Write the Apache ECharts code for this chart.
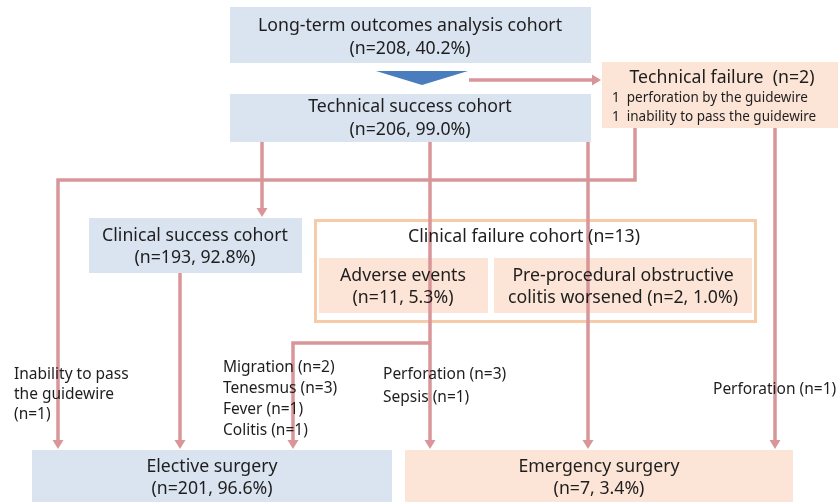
<!DOCTYPE html>
<html><head><meta charset="utf-8">
<script src="https://cdn.jsdelivr.net/npm/echarts@6/dist/echarts.min.js"></script>
<style>html,body{margin:0;padding:0;background:#fff}#c{width:839px;height:502px}</style>
</head><body><div id="c"></div>
<script>
// ---- content (text) ----
const boxTitles = ["Long-term outcomes analysis cohort", "Technical success cohort", "Technical failure  (n=2)", "Clinical success cohort", "Clinical failure cohort (n=13)", "Adverse events", "Pre-procedural obstructive", "Elective surgery", "Emergency surgery"];
const boxSubtitles = ["(n=208, 40.2%)", "(n=206, 99.0%)", "", "(n=193, 92.8%)", "", "(n=11, 5.3%)", "colitis worsened (n=2, 1.0%)", "(n=201, 96.6%)", "(n=7, 3.4%)"];
const technicalFailureReasons = ["1  perforation by the guidewire", "1  inability to pass the guidewire"];
const guidewireLabel = ["Inability to pass", "the guidewire", "(n=1)"];
const adverseElectiveLabel = ["Migration (n=2)", "Tenesmus (n=3)", "Fever (n=1)", "Colitis (n=1)"];
const adverseEmergencyLabel = ["Perforation (n=3)", "Sepsis (n=1)"];
const techFailEmergencyLabel = ["Perforation (n=1)"];

// ---- layout (diagram coordinates) ----
const boxRects = [[230,7,591,63],[230,94,591,142],[602,62,838,128],[89,218,302,273],[314,219,757,323],[319,258,488,313],[494,258,752,313],[32,450,392,510],[405,450,793,510]];
const boxKinds = ["blue","blue","peach","blue","outline","peach","peach","blue","peach"];
const titlePos = [[410,26],[410,107],[722,78],[195,236],[524,237],[403,276],[623,276],[212,467],[599,467]];
const subPos = [[410,49],[410,130],null,[195,258],null,[403,298],[623,298],[212,489],[599,489]];
const connectors = [
  [[469,80],[601,80]],
  [[262,142],[262,217]],
  [[635,128],[635,180],[58,180],[58,449]],
  [[430,142],[430,449]],
  [[430,343],[293,343],[293,449]],
  [[588,142],[588,449]],
  [[775,128],[775,449]],
  [[180,273],[180,449]]
];
const triangle = [[376,71],[468,71],[422,85]];
const labelBlocks = [
  {lines: technicalFailureReasons, x: 612, y: 98, dy: 19, size: 13.5},
  {lines: guidewireLabel, x: 14, y: 375, dy: 20, size: 15.5},
  {lines: adverseElectiveLabel, x: 223, y: 368, dy: 20.7, size: 15.5},
  {lines: adverseEmergencyLabel, x: 383, y: 375, dy: 23, size: 15.5},
  {lines: techFailEmergencyLabel, x: 713, y: 390, dy: 20, size: 15.5}
];

const FONT = '"Noto Sans", sans-serif';
const MAIN_SIZE = 17.7;
const COLORS = {blue:'#dae3f0', peach:'#fce4d6', outline:'#ffffff', line:'#d99699', outlineStroke:'#f8cba8', tri:'#4a7dbd', text:'#1e1e1e'};

const chart = echarts.init(document.getElementById('c'), null, {renderer:'canvas'});

function textEl(api, x, y, str, size, align) {
  const p = api.coord([x, y]);
  return {type:'text', style:{text:str, x:p[0], y:p[1], fill:COLORS.text, font: size + 'px ' + FONT, align: align || 'center', verticalAlign:'middle'}};
}

const option = {
  animation: false,
  grid: {left:0, right:0, top:0, bottom:0},
  xAxis: {type:'value', min:0, max:839, show:false},
  yAxis: {type:'value', min:0, max:502, inverse:true, show:false},
  series: [
    { // boxes
      type:'custom', z:1, clip:false,
      data: boxRects.map((r, i) => [r[0], r[1], r[2], r[3], i]),
      renderItem(params, api) {
        const i = params.dataIndex;
        const p0 = api.coord([api.value(0), api.value(1)]);
        const p1 = api.coord([api.value(2), api.value(3)]);
        const kind = boxKinds[i];
        const outline = kind === 'outline';
        return {type:'rect', shape:{x:p0[0] + (outline?1.5:0), y:p0[1] + (outline?1.5:0), width:p1[0]-p0[0] - (outline?3:0), height:p1[1]-p0[1] - (outline?3:0)},
          style:{fill: COLORS[kind], stroke: outline ? COLORS.outlineStroke : null, lineWidth: outline ? 3 : 0}};
      }
    },
    { // triangle
      type:'custom', z:2, clip:false,
      data: [0],
      renderItem(params, api) {
        return {type:'polygon', shape:{points: triangle.map(p => api.coord(p))}, style:{fill:COLORS.tri}};
      }
    },
    { // connectors
      type:'custom', z:3, clip:false,
      data: connectors.map((c, i) => [c[0][0], c[0][1], i]),
      renderItem(params, api) {
        const pts = connectors[params.dataIndex].map(p => api.coord(p));
        const a = pts[pts.length-2], b = pts[pts.length-1];
        const dx = b[0]-a[0], dy = b[1]-a[1];
        const len = Math.hypot(dx, dy);
        const ux = dx/len, uy = dy/len;
        const hl = 9, hw = 5.5;
        const base = [b[0]-ux*hl, b[1]-uy*hl];
        const linePts = pts.slice(0, -1).concat([base]);
        return {type:'group', children:[
          {type:'polyline', shape:{points: linePts}, style:{stroke:COLORS.line, lineWidth:3.5, fill:null, lineJoin:'miter'}},
          {type:'polygon', shape:{points:[b, [base[0]-uy*hw, base[1]+ux*hw], [base[0]+uy*hw, base[1]-ux*hw]]}, style:{fill:COLORS.line}}
        ]};
      }
    },
    { // box texts
      type:'custom', z:4, clip:false,
      data: boxTitles.map((t, i) => [titlePos[i][0], titlePos[i][1], i]),
      renderItem(params, api) {
        const i = params.dataIndex;
        const children = [textEl(api, titlePos[i][0], titlePos[i][1], boxTitles[i], MAIN_SIZE)];
        if (subPos[i]) children.push(textEl(api, subPos[i][0], subPos[i][1], boxSubtitles[i], MAIN_SIZE));
        return {type:'group', children};
      }
    },
    { // free labels
      type:'custom', z:5, clip:false,
      data: labelBlocks.map((b, i) => [b.x, b.y, i]),
      renderItem(params, api) {
        const b = labelBlocks[params.dataIndex];
        return {type:'group', children: b.lines.map((s, k) => textEl(api, b.x, b.y + k*b.dy, s, b.size, 'left'))};
      }
    }
  ]
};
chart.setOption(option);
</script>
</body></html>
